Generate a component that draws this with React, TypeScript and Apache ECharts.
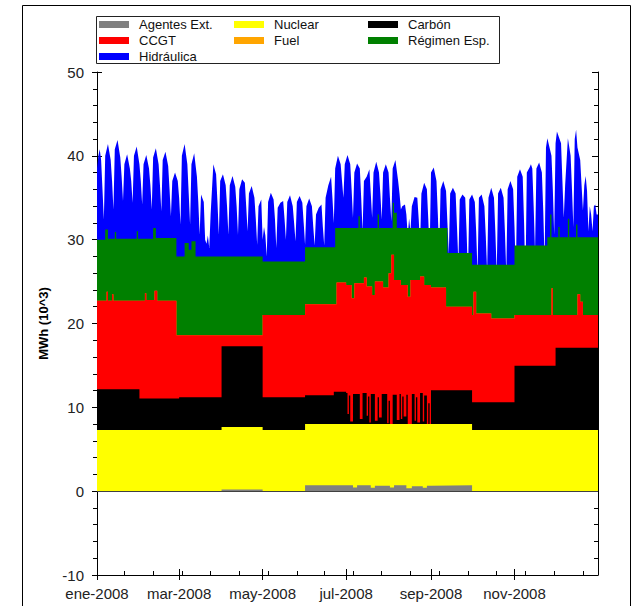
import { useEffect, useRef } from 'react';
import * as echarts from 'echarts';

// ---- Axis ticks / labels ----
const fechasEtiquetas = ['2008-01-01', '2008-03-01', '2008-05-01', '2008-07-01', '2008-09-01', '2008-11-01'];
const etiquetasX = ['ene-2008', 'mar-2008', 'may-2008', 'jul-2008', 'sep-2008', 'nov-2008'];
const fechasTicksMenores = ['2008-01-21', '2008-02-11', '2008-03-03', '2008-03-24', '2008-04-14', '2008-05-05', '2008-05-26', '2008-06-15', '2008-07-06', '2008-07-27', '2008-08-17', '2008-09-07', '2008-09-28', '2008-10-19', '2008-11-09', '2008-11-30', '2008-12-21'];

// ---- Series: upper edge of each band (MWh x10^3) ----
const agentesExt: [string, number][] = [
  ['2008-01-01', 0], ['2008-04-01', 0.2], ['2008-05-01', 0], ['2008-06-01', 0.7], ['2008-07-01', 0.7],
  ['2008-07-06', 0.45], ['2008-07-09', 0.7], ['2008-07-19', 0.4], ['2008-07-22', 0.65], ['2008-08-02', 0.45],
  ['2008-08-05', 0.7], ['2008-08-14', 0.35], ['2008-08-18', 0.6], ['2008-08-26', 0.4], ['2008-08-29', 0.65],
  ['2008-09-01', 0.7], ['2008-10-01', 0], ['2009-01-01', 0],
];
const nuclear: [string, number][] = [
  ['2008-01-01', 7.3], ['2008-04-01', 7.65], ['2008-05-01', 7.3], ['2008-06-01', 8.0], ['2008-10-01', 7.3], ['2009-01-01', 7.3],
];
const carbon: [string, number][] = [
  ['2008-01-01', 12.15], ['2008-02-01', 11.05], ['2008-03-01', 11.2], ['2008-04-01', 17.3], ['2008-05-01', 11.2],
  ['2008-06-01', 11.45], ['2008-06-22', 11.85], ['2008-07-01', 11.7], ['2008-07-02', 9.2], ['2008-07-03', 11.4],
  ['2008-07-04', 8.3], ['2008-07-06', 11.6], ['2008-07-11', 8.6], ['2008-07-13', 11.7], ['2008-07-16', 9.0],
  ['2008-07-17', 11.3], ['2008-07-18', 8.2], ['2008-07-19', 11.6], ['2008-07-22', 8.4], ['2008-07-24', 11.2],
  ['2008-07-25', 8.8], ['2008-07-27', 11.6], ['2008-07-31', 8.1], ['2008-08-01', 10.8], ['2008-08-02', 8.0],
  ['2008-08-04', 11.5], ['2008-08-07', 8.5], ['2008-08-09', 11.6], ['2008-08-10', 8.6], ['2008-08-11', 11.3],
  ['2008-08-12', 8.9], ['2008-08-14', 11.5], ['2008-08-15', 7.9], ['2008-08-18', 11.6], ['2008-08-20', 8.4],
  ['2008-08-21', 11.2], ['2008-08-22', 8.2], ['2008-08-24', 11.7], ['2008-08-26', 8.3], ['2008-08-27', 11.4],
  ['2008-08-29', 8.0], ['2008-08-30', 10.5], ['2008-08-31', 7.9], ['2008-09-01', 12.05], ['2008-10-01', 10.6],
  ['2008-11-01', 14.95], ['2008-12-01', 17.1], ['2009-01-01', 17.1],
];
const ccgt: [string, number][] = [
  ['2008-01-01', 22.7], ['2008-01-08', 23.8], ['2008-01-09', 22.7], ['2008-01-12', 23.5], ['2008-01-13', 22.7],
  ['2008-02-05', 23.6], ['2008-02-06', 22.8], ['2008-02-12', 23.9], ['2008-02-14', 22.7], ['2008-02-28', 18.6],
  ['2008-05-01', 21.0], ['2008-06-01', 22.3], ['2008-06-24', 24.9], ['2008-07-01', 24.6], ['2008-07-05', 23.0],
  ['2008-07-07', 24.8], ['2008-07-14', 25.5], ['2008-07-16', 24.4], ['2008-07-20', 23.4], ['2008-07-22', 25.0],
  ['2008-07-28', 24.3], ['2008-08-01', 26.0], ['2008-08-03', 28.2], ['2008-08-05', 25.2], ['2008-08-10', 24.6],
  ['2008-08-15', 23.2], ['2008-08-17', 25.2], ['2008-08-24', 25.6], ['2008-08-27', 24.6], ['2008-09-01', 24.3],
  ['2008-09-12', 22.0], ['2008-10-01', 21.0], ['2008-10-02', 23.8], ['2008-10-04', 21.2], ['2008-10-15', 20.6],
  ['2008-11-01', 21.0], ['2008-11-28', 24.2], ['2008-11-29', 21.0], ['2008-12-17', 23.5], ['2008-12-19', 22.6],
  ['2008-12-21', 21.0], ['2009-01-01', 21.0],
];
// Fuel: too thin to be seen at this scale, its band sits on top of CCGT
const fuel: [string, number][] = ccgt;
const regimenEsp: [string, number][] = [
  ['2008-01-01', 30.0], ['2008-01-07', 31.2], ['2008-01-09', 30.1], ['2008-01-14', 30.9], ['2008-01-15', 30.1],
  ['2008-01-30', 31.0], ['2008-01-31', 30.1], ['2008-02-11', 31.4], ['2008-02-13', 30.2], ['2008-02-28', 28.0],
  ['2008-03-05', 29.6], ['2008-03-08', 28.8], ['2008-03-10', 29.8], ['2008-03-13', 28.0], ['2008-05-01', 27.4],
  ['2008-06-01', 29.1], ['2008-06-23', 31.4], ['2008-07-10', 32.8], ['2008-07-11', 31.4], ['2008-07-24', 33.0],
  ['2008-07-25', 31.4], ['2008-08-04', 34.4], ['2008-08-05', 33.2], ['2008-08-07', 31.4], ['2008-09-13', 28.4],
  ['2008-10-01', 27.0], ['2008-11-01', 29.3], ['2008-11-25', 30.3], ['2008-11-27', 33.0], ['2008-11-28', 30.3],
  ['2008-12-03', 31.5], ['2008-12-04', 30.3], ['2008-12-10', 32.5], ['2008-12-11', 30.3], ['2008-12-16', 31.8],
  ['2008-12-17', 30.3], ['2009-01-01', 30.3],
];
const hidraulica: [string, number][] = [
  ['2008-01-01', 38.5], ['2008-01-02', 40.0], ['2008-01-03', 40.8], ['2008-01-04', 39.5], ['2008-01-05', 36.0], ['2008-01-06', 32.4],
  ['2008-01-07', 40.0], ['2008-01-09', 41.4], ['2008-01-11', 39.5], ['2008-01-12', 37.0], ['2008-01-13', 33.6],
  ['2008-01-14', 40.8], ['2008-01-16', 41.9], ['2008-01-18', 39.8], ['2008-01-19', 37.5], ['2008-01-20', 34.6],
  ['2008-01-21', 39.0], ['2008-01-23', 40.2], ['2008-01-25', 38.5], ['2008-01-26', 37.0], ['2008-01-27', 34.4],
  ['2008-01-28', 40.0], ['2008-01-30', 41.1], ['2008-02-01', 39.0], ['2008-02-02', 37.0], ['2008-02-03', 34.2],
  ['2008-02-04', 39.0], ['2008-02-06', 40.1], ['2008-02-08', 38.5], ['2008-02-09', 36.5], ['2008-02-10', 33.6],
  ['2008-02-11', 39.8], ['2008-02-13', 40.9], ['2008-02-15', 39.0], ['2008-02-16', 36.5], ['2008-02-17', 33.4],
  ['2008-02-18', 39.5], ['2008-02-20', 40.5], ['2008-02-22', 38.8], ['2008-02-23', 36.0], ['2008-02-24', 32.8],
  ['2008-02-25', 37.0], ['2008-02-27', 38.0], ['2008-02-29', 37.0], ['2008-03-01', 35.0], ['2008-03-02', 31.8],
  ['2008-03-03', 40.0], ['2008-03-05', 41.4], ['2008-03-07', 39.0], ['2008-03-08', 35.5], ['2008-03-09', 31.8],
  ['2008-03-10', 39.0], ['2008-03-12', 40.3], ['2008-03-14', 37.5], ['2008-03-15', 34.5], ['2008-03-16', 30.6],
  ['2008-03-17', 35.4], ['2008-03-19', 34.5], ['2008-03-20', 30.0], ['2008-03-21', 29.5], ['2008-03-22', 30.5], ['2008-03-23', 29.0],
  ['2008-03-24', 33.0], ['2008-03-26', 39.0], ['2008-03-28', 37.8], ['2008-03-29', 34.5], ['2008-03-30', 30.6],
  ['2008-03-31', 37.0], ['2008-04-02', 37.8], ['2008-04-04', 36.5], ['2008-04-05', 34.0], ['2008-04-06', 30.6],
  ['2008-04-07', 36.5], ['2008-04-09', 37.6], ['2008-04-11', 36.3], ['2008-04-12', 34.0], ['2008-04-13', 30.6],
  ['2008-04-14', 36.0], ['2008-04-16', 37.2], ['2008-04-18', 36.8], ['2008-04-19', 34.0], ['2008-04-20', 31.0],
  ['2008-04-21', 35.5], ['2008-04-23', 36.4], ['2008-04-25', 35.0], ['2008-04-26', 32.5], ['2008-04-27', 29.4],
  ['2008-04-28', 34.0], ['2008-04-30', 34.8], ['2008-05-01', 30.0], ['2008-05-02', 31.5], ['2008-05-03', 30.5], ['2008-05-04', 28.0],
  ['2008-05-05', 34.5], ['2008-05-07', 35.6], ['2008-05-09', 34.8], ['2008-05-10', 32.5], ['2008-05-11', 29.0],
  ['2008-05-12', 33.8], ['2008-05-14', 34.4], ['2008-05-16', 34.6], ['2008-05-17', 32.5], ['2008-05-18', 30.0],
  ['2008-05-19', 34.5], ['2008-05-21', 35.3], ['2008-05-23', 34.0], ['2008-05-24', 32.0], ['2008-05-25', 29.8],
  ['2008-05-26', 34.5], ['2008-05-28', 35.2], ['2008-05-30', 34.4], ['2008-05-31', 32.0], ['2008-06-01', 29.4],
  ['2008-06-02', 34.0], ['2008-06-04', 34.9], ['2008-06-06', 34.0], ['2008-06-07', 31.5], ['2008-06-08', 29.3],
  ['2008-06-09', 33.0], ['2008-06-11', 33.8], ['2008-06-13', 34.2], ['2008-06-14', 31.5], ['2008-06-15', 29.3],
  ['2008-06-16', 35.0], ['2008-06-18', 36.5], ['2008-06-20', 37.5], ['2008-06-21', 35.0], ['2008-06-22', 32.0],
  ['2008-06-23', 38.5], ['2008-06-25', 40.0], ['2008-06-27', 39.0], ['2008-06-28', 37.0], ['2008-06-29', 35.0],
  ['2008-06-30', 39.0], ['2008-07-02', 40.1], ['2008-07-04', 39.0], ['2008-07-05', 36.0], ['2008-07-06', 32.6],
  ['2008-07-07', 38.0], ['2008-07-09', 39.1], ['2008-07-11', 38.5], ['2008-07-12', 35.0], ['2008-07-13', 31.0],
  ['2008-07-14', 37.0], ['2008-07-16', 37.5], ['2008-07-18', 38.4], ['2008-07-19', 35.5], ['2008-07-20', 32.6],
  ['2008-07-21', 38.0], ['2008-07-23', 39.3], ['2008-07-25', 38.0], ['2008-07-26', 35.5], ['2008-07-27', 32.4],
  ['2008-07-28', 38.0], ['2008-07-30', 39.0], ['2008-08-01', 38.0], ['2008-08-02', 35.0], ['2008-08-03', 32.2],
  ['2008-08-04', 38.5], ['2008-08-06', 39.5], ['2008-08-08', 37.0], ['2008-08-09', 35.5], ['2008-08-10', 33.6],
  ['2008-08-11', 34.0], ['2008-08-13', 34.2], ['2008-08-14', 33.0], ['2008-08-15', 30.5], ['2008-08-16', 32.5], ['2008-08-17', 31.0],
  ['2008-08-18', 34.0], ['2008-08-20', 35.1], ['2008-08-22', 35.0], ['2008-08-23', 32.5], ['2008-08-24', 29.4],
  ['2008-08-25', 35.5], ['2008-08-27', 36.8], ['2008-08-29', 36.0], ['2008-08-30', 32.5], ['2008-08-31', 28.4],
  ['2008-09-01', 38.0], ['2008-09-03', 38.6], ['2008-09-05', 37.0], ['2008-09-06', 33.0], ['2008-09-07', 28.4],
  ['2008-09-08', 36.0], ['2008-09-10', 37.0], ['2008-09-12', 35.8], ['2008-09-13', 32.0], ['2008-09-14', 28.2],
  ['2008-09-15', 35.5], ['2008-09-17', 36.2], ['2008-09-19', 35.5], ['2008-09-20', 31.5], ['2008-09-21', 27.2],
  ['2008-09-22', 34.8], ['2008-09-24', 35.4], ['2008-09-26', 35.0], ['2008-09-27', 31.0], ['2008-09-28', 25.6],
  ['2008-09-29', 34.8], ['2008-10-01', 35.4], ['2008-10-03', 34.5], ['2008-10-04', 31.0], ['2008-10-05', 26.0],
  ['2008-10-06', 35.0], ['2008-10-08', 35.4], ['2008-10-10', 34.0], ['2008-10-11', 30.5], ['2008-10-12', 26.2],
  ['2008-10-13', 35.0], ['2008-10-15', 36.2], ['2008-10-17', 35.0], ['2008-10-18', 31.0], ['2008-10-19', 26.0],
  ['2008-10-20', 35.5], ['2008-10-22', 36.2], ['2008-10-24', 35.0], ['2008-10-25', 31.0], ['2008-10-26', 26.0],
  ['2008-10-27', 36.0], ['2008-10-29', 37.0], ['2008-10-31', 36.0], ['2008-11-01', 31.5], ['2008-11-02', 25.8],
  ['2008-11-03', 37.5], ['2008-11-05', 38.4], ['2008-11-07', 37.5], ['2008-11-08', 32.0], ['2008-11-09', 25.0],
  ['2008-11-10', 38.0], ['2008-11-12', 38.6], ['2008-11-13', 39.0], ['2008-11-14', 38.5], ['2008-11-15', 34.0], ['2008-11-16', 28.6],
  ['2008-11-17', 38.5], ['2008-11-19', 39.2], ['2008-11-21', 38.0], ['2008-11-22', 33.5], ['2008-11-23', 27.4],
  ['2008-11-24', 41.0], ['2008-11-25', 42.1], ['2008-11-28', 40.0], ['2008-11-29', 36.0], ['2008-11-30', 30.6],
  ['2008-12-01', 41.5], ['2008-12-02', 42.9], ['2008-12-05', 41.5], ['2008-12-06', 37.0], ['2008-12-07', 32.6],
  ['2008-12-08', 36.5], ['2008-12-10', 42.1], ['2008-12-12', 40.0], ['2008-12-13', 36.0], ['2008-12-14', 31.5],
  ['2008-12-15', 42.0], ['2008-12-16', 43.1], ['2008-12-17', 41.0], ['2008-12-19', 39.5], ['2008-12-20', 36.5], ['2008-12-21', 33.5],
  ['2008-12-22', 36.5], ['2008-12-23', 37.6], ['2008-12-24', 35.8], ['2008-12-25', 31.0], ['2008-12-26', 34.0], ['2008-12-27', 33.0], ['2008-12-28', 31.0],
  ['2008-12-29', 34.0], ['2008-12-30', 34.2], ['2008-12-31', 33.0], ['2009-01-01', 33.0],
];

const colores = {
  agentes: '#808080', nuclear: '#FFFF00', carbon: '#000000', ccgt: '#FF0000',
  fuel: '#FFA500', regimen: '#008000', hidraulica: '#0000FF',
};

const ts = (s: string) => {
  const [y, m, d] = s.split('-').map(Number);
  return new Date(y, m - 1, d).getTime();
};

export default function App() {
  const ref = useRef<HTMLDivElement>(null);
  useEffect(() => {
    if (!ref.current) return;
    const chart = echarts.init(ref.current, null, { renderer: 'svg' });
    const font = 'Liberation Sans, Arial, sans-serif';
    const mayores = fechasEtiquetas.map(ts);
    const menores = fechasTicksMenores.map(ts);
    const xMin = ts('2008-01-01');
    const xMax = ts('2009-01-01');

    const area = (name: string, data: [string, number][], color: string, step: boolean, extra: any = {}) => ({
      name,
      type: 'line',
      data: data.map(([d, v]) => [ts(d), v]),
      step: step ? 'end' : false,
      xAxisIndex: 0,
      yAxisIndex: 0,
      showSymbol: false,
      symbol: 'none',
      silent: true,
      color,
      itemStyle: { color },
      lineStyle: { width: 0, color },
      areaStyle: { color, opacity: 1 },
      emphasis: { disabled: true },
      ...extra,
    });

    const legendCommon = {
      orient: 'vertical',
      top: 17,
      padding: 0,
      itemWidth: 30,
      itemHeight: 7,
      itemGap: 1,
      icon: 'rect',
      selectedMode: false,
      textStyle: { fontSize: 13, color: '#111', fontFamily: font, lineHeight: 15, padding: [0, 0, 0, 5] },
    };

    const xBase = { type: 'value', min: xMin, max: xMax, position: 'bottom', splitLine: { show: false }, gridIndex: 0 };
    const yBase = { type: 'value', min: -10, max: 50, interval: 10, splitLine: { show: false }, gridIndex: 0 };

    chart.setOption({
      animation: false,
      backgroundColor: '#ffffff',
      textStyle: { fontFamily: font },
      grid: { left: 97, right: 45, top: 72, bottom: 31, containLabel: false },
      legend: [
        { ...legendCommon, left: 99, data: ['Agentes Ext.', 'CCGT', 'Hidráulica'] },
        { ...legendCommon, left: 234, data: ['Nuclear', 'Fuel'] },
        { ...legendCommon, left: 368, data: ['Carbón', 'Régimen Esp.'] },
      ],
      graphic: [
        { type: 'rect', silent: true, z: -10, shape: { x: 22.5, y: 5.5, width: 608, height: 640 }, style: { fill: 'none', stroke: '#000', lineWidth: 1 } },
        { type: 'rect', silent: true, z: 0, shape: { x: 96.5, y: 16.5, width: 403, height: 47 }, style: { fill: '#fff', stroke: '#222', lineWidth: 1 } },
      ],
      xAxis: [
        {
          ...xBase,
          axisLine: { show: true, onZero: false, lineStyle: { color: '#000', width: 1 } },
          axisTick: { show: true, customValues: mayores, length: 5, inside: false, lineStyle: { color: '#000' } },
          axisLabel: {
            show: true,
            customValues: mayores,
            fontSize: 15,
            color: '#222',
            margin: 11,
            fontFamily: font,
            formatter: (v: number) => {
              const i = mayores.indexOf(v);
              return i >= 0 ? etiquetasX[i] : '';
            },
          },
        },
        {
          ...xBase,
          axisLine: { show: false, onZero: false },
          axisTick: { show: true, customValues: mayores, length: 6, inside: true, lineStyle: { color: '#000' } },
          axisLabel: { show: false },
        },
        {
          ...xBase,
          axisLine: { show: false, onZero: false },
          axisTick: { show: true, customValues: menores, length: 4, inside: true, lineStyle: { color: '#000' } },
          axisLabel: { show: false },
        },
      ],
      yAxis: [
        {
          ...yBase,
          position: 'left',
          name: 'MWh (10^3)',
          nameLocation: 'middle',
          nameGap: 47,
          nameTextStyle: { fontSize: 13, fontWeight: 'bold', color: '#000', fontFamily: font },
          axisLine: { show: true, lineStyle: { color: '#000', width: 1 } },
          axisTick: { show: true, length: 5, inside: false, lineStyle: { color: '#000' } },
          minorTick: { show: true, splitNumber: 5, length: 4, lineStyle: { color: '#000' } },
          axisLabel: { fontSize: 15, color: '#222', margin: 13, fontFamily: font },
        },
        {
          ...yBase,
          position: 'left',
          axisLine: { show: false },
          axisTick: { show: true, length: 5, inside: true, lineStyle: { color: '#000' } },
          axisLabel: { show: false },
        },
        {
          ...yBase,
          position: 'right',
          axisLine: { show: true, lineStyle: { color: '#000', width: 1 } },
          axisTick: { show: true, length: 6, inside: true, lineStyle: { color: '#000' } },
          minorTick: { show: true, splitNumber: 5, length: 4, lineStyle: { color: '#000' } },
          axisLabel: { show: false },
        },
      ],
      series: [
        area('Hidráulica', hidraulica, colores.hidraulica, false),
        area('Régimen Esp.', regimenEsp, colores.regimen, true),
        area('Fuel', fuel, colores.fuel, true),
        area('CCGT', ccgt, colores.ccgt, true),
        area('Carbón', carbon, colores.carbon, true),
        area('Nuclear', nuclear, colores.nuclear, true),
        area('Agentes Ext.', agentesExt, colores.agentes, true, {
          markLine: {
            silent: true,
            symbol: 'none',
            label: { show: false },
            lineStyle: { color: '#404040', width: 1, type: 'solid' },
            data: [{ yAxis: 0 }],
          },
        }),
      ],
    });
    return () => chart.dispose();
  }, []);
  return <div ref={ref} style={{ position: 'absolute', left: 0, top: 0, width: 643, height: 606 }} />;
}
